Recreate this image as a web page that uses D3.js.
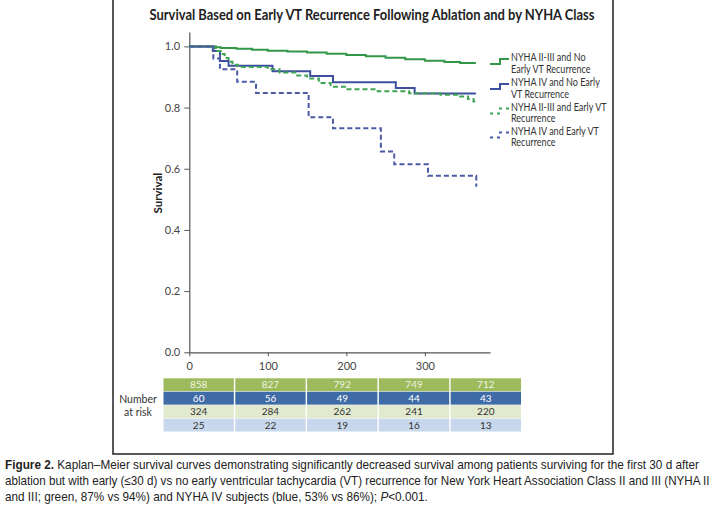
<!DOCTYPE html>
<html><head><meta charset="utf-8">
<script src="https://cdn.jsdelivr.net/npm/d3@7"></script>
<style>
body{margin:0;background:#fff;}
svg{display:block;}
</style></head>
<body>
<svg id="c" width="714" height="512"></svg>
<script>
// ---- data ----
const titleText = "Survival Based on Early VT Recurrence Following Ablation and by NYHA Class";
const xTicks = [0, 100, 200, 300];
const yTicks = [0.0, 0.2, 0.4, 0.6, 0.8, 1.0];
const seriesNames = ["NYHA II-III and No Early VT Recurrence", "NYHA IV and No Early VT Recurrence",
  "NYHA II-III and Early VT Recurrence", "NYHA IV and Early VT Recurrence"];
const legendLines = [["NYHA II-III and No", "Early VT Recurrence"], ["NYHA IV and No Early", "VT Recurrence"],
  ["NYHA II-III and Early VT", "Recurrence"], ["NYHA IV and Early VT", "Recurrence"]];
// Kaplan-Meier step data: [day, survival]
const greenSolid = [[0,1],[30,1],[34,0.997],[40,0.995],[60,0.992],[80,0.989],[100,0.986],[125,0.983],[150,0.980],
  [175,0.976],[200,0.972],[225,0.968],[250,0.963],[275,0.958],[300,0.953],[325,0.949],[345,0.946],[365,0.946]];
const blueSolid = [[0,1],[30,0.985],[39,0.952],[50,0.937],[106,0.919],[154,0.903],[183,0.883],[263,0.864],[287,0.846],[365,0.846]];
const greenDashed = [[0,1],[30,0.995],[35,0.985],[40,0.975],[45,0.962],[50,0.95],[55,0.94],[62,0.933],[100,0.925],
  [115,0.915],[135,0.905],[150,0.895],[165,0.88],[180,0.868],[200,0.86],[240,0.853],[280,0.847],[320,0.842],
  [345,0.836],[355,0.828],[362,0.82],[365,0.815]];
const blueDashed = [[0,1],[30.6,0.96],[39,0.925],[61,0.884],[85,0.848],[152,0.768],[183,0.732],[244,0.656],
  [261,0.615],[304,0.577],[365,0.577],[365.5,0.541]];
const atRiskLabel = ["Number", "at risk"];
const atRisk = [[858,827,792,749,712],[60,56,49,44,43],[324,284,262,241,220],[25,22,19,16,13]];
const captionBold = "Figure 2.";
const captionLines = [
  " Kaplan\u2013Meier survival curves demonstrating significantly decreased survival among patients surviving for the first 30 d after",
  "ablation but with early (\u226430 d) vs no early ventricular tachycardia (VT) recurrence for New York Heart Association Class II and III (NYHA II",
  "and III; green, 87% vs 94%) and NYHA IV subjects (blue, 53% vs 86%); "];
const captionItalic = "P";
const captionEnd = "<0.001.";

// ---- styles ----
const colors = ["#33974a", "#3d4f9e", "#3fa552", "#4a5aa6"];
const dashes = [null, null, "5,3", "5,3"];
const rowFill = ["#9dbb5c", "#3f6ca6", "#e1eacf", "#c8d8ec"];
const rowText = ["#eef3e0", "#ffffff", "#333", "#333"];
const uiFont = "Lato, 'Open Sans', sans-serif";

const svg = d3.select("#c");

// frame
svg.append("path").attr("d", "M113,0V454H613V0").attr("fill","none").attr("stroke","#222").attr("stroke-width",1.5);

// title
svg.append("text").attr("x", 372).attr("y", 20).attr("text-anchor","middle")
  .attr("font-family", uiFont).attr("font-weight","bold").attr("font-size",15)
  .attr("fill","#222").attr("textLength",445).attr("lengthAdjust","spacingAndGlyphs").text(titleText);

const x = d3.scaleLinear().domain([0, 383]).range([189.3, 490]);
const y = d3.scaleLinear().domain([0, 1.047]).range([352.3, 32]);

const gx = svg.append("g").attr("transform", `translate(0,${y(0)})`)
  .call(d3.axisBottom(x).tickValues(xTicks).tickFormat(d3.format("d")).tickSize(4).tickSizeOuter(0));
const gy = svg.append("g").attr("transform", `translate(${x(0)},0)`)
  .call(d3.axisLeft(y).tickValues(yTicks).tickFormat(d3.format(".1f")).tickSize(5).tickSizeOuter(0));
[gx, gy].forEach(g => {
  g.selectAll("path.domain").attr("stroke","#555").attr("stroke-width",1.2);
  g.selectAll(".tick line").attr("stroke","#555");
  g.selectAll("text").attr("font-family", uiFont).attr("font-size",11).attr("fill","#444");
});
gx.selectAll("text").attr("dy", "1.0em");
gy.selectAll("text").attr("dx", "-0.1em");

svg.append("text").attr("transform", `translate(162,${y(0.52)}) rotate(-90)`).attr("text-anchor","middle")
  .attr("font-family", uiFont).attr("font-weight","bold").attr("font-size",11.5).attr("fill","#222")
  .text("Survival");

// curves
const line = d3.line().x(d => x(d[0])).y(d => y(d[1])).curve(d3.curveStepAfter);
const allSeries = [greenSolid, blueSolid, greenDashed, blueDashed];
allSeries.forEach((s, i) => {
  svg.append("path").datum(s).attr("d", line).attr("fill","none").attr("stroke", colors[i])
    .attr("stroke-width", 2).attr("stroke-dasharray", dashes[i]);
});

// legend
const lg = svg.append("g");
const legY = [57, 82, 106.5, 130.5];
legendLines.forEach((ls, i) => {
  const y0 = legY[i];
  const step = [[490, y0+7], [500, y0+7], [500, y0+2], [509, y0+2]];
  lg.append("path").attr("d", d3.line()(step)).attr("fill","none").attr("stroke", colors[i])
    .attr("stroke-width", 2).attr("stroke-dasharray", dashes[i] ? "3,4" : null);
  ls.forEach((t, j) => {
    lg.append("text").attr("transform", `translate(511,${y0 + 4 + j * 11.6}) scale(0.86,1)`)
      .attr("font-family", uiFont).attr("font-size", 10.5).attr("fill","#333").text(t);
  });
});

// number at risk table
const col = d3.scaleBand().domain(d3.range(5)).range([163.5, 521]).paddingInner(0.02);
const row = d3.scaleBand().domain(d3.range(4)).range([378.3, 431.5]).paddingInner(0.04);
atRisk.forEach((vals, r) => {
  vals.forEach((v, c) => {
    svg.append("rect").attr("x", col(c)).attr("y", row(r)).attr("width", col.bandwidth()).attr("height", row.bandwidth())
      .attr("fill", rowFill[r]);
    svg.append("text").attr("x", col(c) + col.bandwidth()/2).attr("y", row(r) + row.bandwidth()/2 + 3.5)
      .attr("text-anchor","middle").attr("font-family", uiFont).attr("font-size", 10)
      .attr("fill", rowText[r]).text(v);
  });
});
atRiskLabel.forEach((t, j) => {
  svg.append("text").attr("x", 138).attr("y", 403 + j * 13).attr("text-anchor","middle")
    .attr("font-family", uiFont).attr("font-size",10.5).attr("fill","#333").text(t);
});

// caption: each line fitted horizontally to the reference width
const capFont = "'Liberation Sans Narrow', 'Liberation Sans', Arial, sans-serif";
const cap = svg.append("g").attr("font-family", capFont).attr("font-size", 12.5).attr("fill", "#222");
function fit(sel, target, yy) {
  const w = sel.node().getComputedTextLength();
  sel.attr("transform", `translate(5,${yy}) scale(${target / w},1)`);
}
const t1 = cap.append("text");
t1.append("tspan").attr("font-weight","bold").text(captionBold);
t1.append("tspan").text(captionLines[0]);
fit(t1, 695, 469);
const t2 = cap.append("text").text(captionLines[1]);
fit(t2, 705, 485);
const t3 = cap.append("text");
t3.append("tspan").text(captionLines[2]);
t3.append("tspan").attr("font-style","italic").text(captionItalic);
t3.append("tspan").text(captionEnd);
fit(t3, 423, 501);
</script>
</body></html>
